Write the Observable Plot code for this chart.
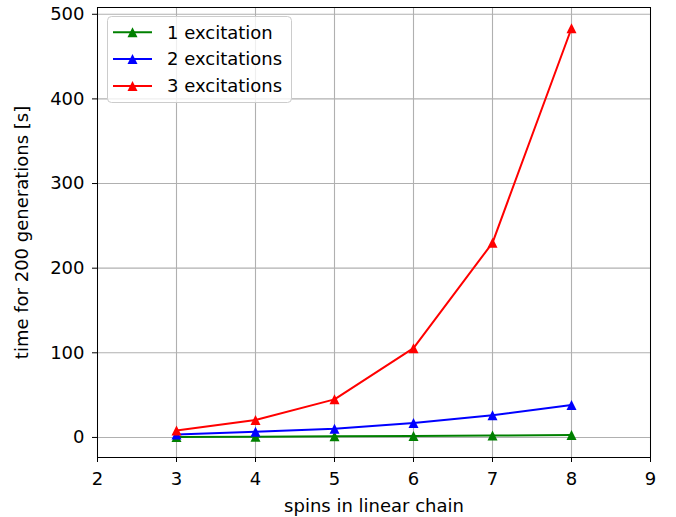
<!DOCTYPE html>
<html>
<head>
<meta charset="utf-8">
<script src="https://cdn.jsdelivr.net/npm/d3@7"></script>
<script src="https://cdn.jsdelivr.net/npm/@observablehq/plot@0.6"></script>
<style>
  body { margin: 0; background: #fff; }
  #chart svg { font-family: "DejaVu Sans", sans-serif; }
</style>
</head>
<body>
<div id="chart"></div>
<script>
// Run time of 200 generations vs. length of the spin chain
const spins = [3, 4, 5, 6, 7, 8];
const oneExcitation = [0.5, 0.9, 1.3, 1.8, 2.3, 2.9];
const twoExcitations = [3.5, 6.7, 10.3, 17.0, 26.3, 38.2];
const threeExcitations = [8.2, 20.5, 45, 105.5, 230, 483.5];
const seriesNames = ["1 excitation", "2 excitations", "3 excitations"];
const seriesColors = ["green", "blue", "red"];
const xTicks = [2, 3, 4, 5, 6, 7, 8, 9];
const yTicks = [0, 100, 200, 300, 400, 500];

const seriesValues = [oneExcitation, twoExcitations, threeExcitations];
const rows = seriesNames.flatMap((name, i) =>
  spins.map((s, j) => ({ name, spins: s, time: seriesValues[i][j] }))
);

const W = 676, H = 517;
const FS = 18;
const gridStyle = { stroke: "#b0b0b0", strokeOpacity: 1, strokeWidth: 1.1 };

// Upward triangle as wide as it is tall, centred on its bounding box
const triangleUp = {
  draw(context, size) {
    const h = Math.sqrt(size) / 2;
    context.moveTo(0, -h);
    context.lineTo(h, h);
    context.lineTo(-h, h);
    context.closePath();
  }
};
const markerR = 10 / Math.sqrt(Math.PI); // size = π r² → side of 10 px

const chart = Plot.plot({
  width: W,
  height: H,
  marginLeft: 97,
  marginRight: 26,
  marginTop: 7,
  marginBottom: 60,
  style: { fontFamily: "DejaVu Sans, sans-serif", fontSize: FS + "px", color: "black", background: "white" },
  x: { domain: [2, 9] },
  y: { domain: [-23.7, 508] },
  color: { domain: seriesNames, range: seriesColors },
  marks: [
    Plot.gridX(xTicks, gridStyle),
    Plot.gridY(yTicks, gridStyle),
    Plot.line(rows, { x: "spins", y: "time", z: "name", stroke: "name", strokeWidth: 2 }),
    Plot.dot(rows, { x: "spins", y: "time", fill: "name", symbol: triangleUp, r: markerR }),
    Plot.frame({ stroke: "black", strokeWidth: 1 }),
    Plot.axisX(xTicks, {
      tickSize: 5, tickPadding: 10, fontSize: FS, stroke: "black",
      label: "spins in linear chain", labelAnchor: "center", labelArrow: "none", labelOffset: 54
    }),
    Plot.axisY(yTicks, {
      tickSize: 5, tickPadding: 8, fontSize: FS, stroke: "black",
      label: "time for 200 generations [s]", labelAnchor: "center", labelArrow: "none", labelOffset: 82
    })
  ]
});

document.getElementById("chart").appendChild(chart);

// Legend box in the upper-left corner of the axes
const svg = d3.select(chart);
const lg = svg.append("g")
  .attr("font-family", "DejaVu Sans, sans-serif")
  .attr("font-size", FS)
  .attr("text-anchor", "start");
lg.append("rect")
  .attr("x", 107.5).attr("y", 16.5).attr("width", 184).attr("height", 86)
  .attr("rx", 4).attr("fill", "white").attr("fill-opacity", 0.8)
  .attr("stroke", "#cccccc").attr("stroke-width", 1);
const sym = d3.symbol(triangleUp, Math.PI * markerR * markerR);
seriesNames.forEach((name, i) => {
  const y = 32.3 + i * 26.8;
  lg.append("line").attr("x1", 113).attr("x2", 152).attr("y1", y).attr("y2", y)
    .attr("stroke", seriesColors[i]).attr("stroke-width", 2);
  lg.append("path").attr("d", sym()).attr("transform", `translate(132.5,${y})`)
    .attr("fill", seriesColors[i]);
  lg.append("text").attr("x", 167).attr("y", y).attr("dy", "0.35em")
    .attr("text-anchor", "start").attr("fill", "black").text(name);
});
</script>
</body>
</html>
